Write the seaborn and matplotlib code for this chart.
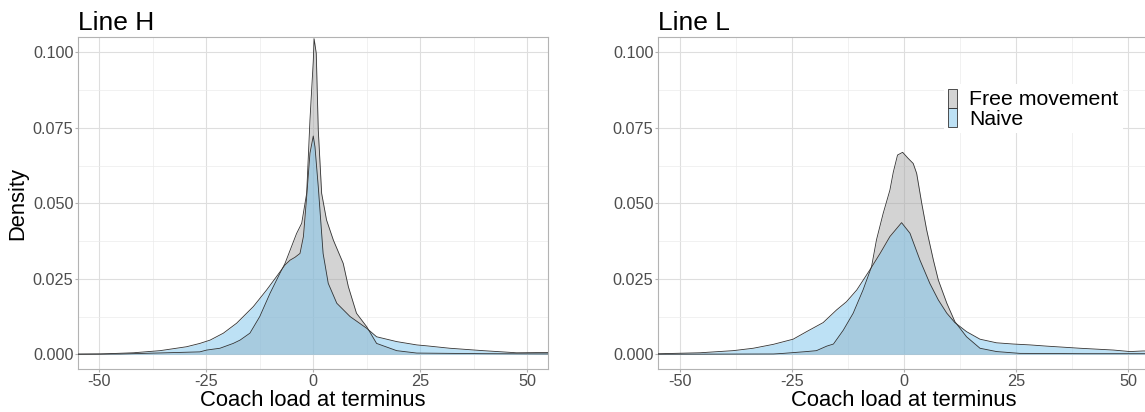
import numpy as np
import seaborn as sns
import matplotlib.pyplot as plt
from matplotlib.colors import to_rgba
from matplotlib.patches import Patch
from matplotlib.ticker import MultipleLocator

# density curves (x = coach load, y = density)
h_free_x = [-60, -45, -34.3, -26.5, -24.9, -21.8, -18.7, -17.1, -14.8, -12.5, -10.1, -7.8, -6.6, -5.4, -3.9,
            -2.7, -1.54, -0.77, -0.4, 0, 0.2, 0.7, 1.17, 1.96, 3.1, 4.7, 7.0, 8.2, 10.1, 12.5, 14.8, 19.5,
            24.2, 40, 60]
h_free_y = [0, 0.0001, 0.0005, 0.0008, 0.0014, 0.002, 0.0036, 0.0047, 0.007, 0.0125, 0.0202, 0.0268, 0.0301,
            0.0345, 0.040, 0.0434, 0.0533, 0.0776, 0.087, 0.097, 0.1045, 0.0997, 0.0743, 0.0533, 0.0445,
            0.0378, 0.0301, 0.0224, 0.0136, 0.0091, 0.0036, 0.0012, 0.0004, 0.0002, 0.0001]

h_naive_x = [-60, -49.8, -42, -35.8, -29.6, -26.5, -24.1, -21, -17.9, -14, -10.9, -8.6, -6.6, -5.4, -4.3,
             -3.1, -2.3, -1.54, -0.77, 0, 0.4, 1.17, 2.3, 3.5, 5.5, 8.6, 12.5, 14.8, 19.5, 24.2, 26.5, 31.9,
             39.7, 47.5, 55, 60]
h_naive_y = [0, 0.0001, 0.0005, 0.0012, 0.0025, 0.0036, 0.0047, 0.007, 0.0103, 0.0158, 0.0213, 0.0257,
             0.0296, 0.0312, 0.0321, 0.0334, 0.039, 0.0522, 0.0666, 0.0723, 0.0687, 0.0555, 0.0334, 0.0235,
             0.0169, 0.0125, 0.0086, 0.0058, 0.0042, 0.0031, 0.0028, 0.002, 0.0012, 0.0005, 0.0006, 0.0006]

l_free_x = [-60, -29.2, -27, -21.8, -19.6, -17.3, -15.8, -13.6, -11.4, -9.2, -7.3, -6.2, -4.7, -3.2, -2.45,
            -1.5, -0.36, 0.8, 2.0, 2.77, 3.9, 5.0, 6.5, 7.6, 9.5, 11.3, 13.9, 16.9, 20.6, 25.8, 40, 60]
l_free_y = [0, 0.0001, 0.0003, 0.0009, 0.0012, 0.0027, 0.0034, 0.008, 0.0136, 0.0213, 0.029, 0.0379,
            0.0467, 0.0544, 0.0603, 0.066, 0.0669, 0.065, 0.0632, 0.0599, 0.05, 0.0412, 0.0312, 0.0246,
            0.0169, 0.0108, 0.0058, 0.002, 0.0009, 0.0003, 0.0002, 0.0002]

l_naive_x = [-60, -45.6, -38.2, -33.7, -29.2, -24.8, -21.8, -18.1, -15.1, -12.9, -10.6, -7.7, -5.4, -3.2,
             -0.6, 1.27, 3.5, 5.7, 7.6, 9.5, 11.3, 13.9, 16.9, 20.6, 24.3, 28.1, 31.8, 39.2, 46.7, 50.4,
             53.3, 60]
l_naive_y = [0, 0.0005, 0.0012, 0.002, 0.0033, 0.005, 0.0075, 0.0105, 0.0147, 0.0174, 0.0213, 0.0279,
             0.0334, 0.039, 0.0436, 0.0401, 0.0312, 0.0235, 0.018, 0.0136, 0.0105, 0.0075, 0.005, 0.0038,
             0.0034, 0.0031, 0.0027, 0.002, 0.0014, 0.0009, 0.0011, 0.0011]

groups = ['Free movement', 'Naive']
fills = {'Free movement': '#A8A8A8', 'Naive': '#7CC4EC'}
edge = '#333333'

sns.set_style("white")
plt.rcParams['font.family'] = ['Liberation Sans', 'DejaVu Sans']
plt.rcParams['axes.unicode_minus'] = False
plt.rcParams['text.color'] = 'black'
plt.rcParams['axes.labelcolor'] = 'black'

fig = plt.figure(figsize=(11.45, 4.12), dpi=100)
ax1 = fig.add_axes([0.0684, 0.1044, 0.4100, 0.8051])
ax2 = fig.add_axes([0.5749, 0.1044, 0.4293, 0.8051])


def draw_panel(ax, curves, title):
    for name, (xs, ys) in zip(groups, curves):
        ax.fill_between(xs, ys, color=fills[name], alpha=0.5, lw=0, zorder=2)
        sns.lineplot(x=xs, y=ys, ax=ax, color=edge, lw=0.6, sort=False, estimator=None, zorder=3)
    ax.set_xlim(-54.9, 54.8)
    ax.set_ylim(-0.00487, 0.105)
    ax.xaxis.set_major_locator(MultipleLocator(25))
    ax.xaxis.set_minor_locator(MultipleLocator(12.5))
    ax.yaxis.set_major_locator(MultipleLocator(0.025))
    ax.yaxis.set_minor_locator(MultipleLocator(0.0125))
    ax.yaxis.set_major_formatter(lambda v, p: f'{v:.3f}')
    ax.grid(which='major', color='#DEDEDE', lw=0.8)
    ax.grid(which='minor', color='#EBEBEB', lw=0.5)
    ax.set_axisbelow(True)
    for s in ax.spines.values():
        s.set_color('#B3B3B3')
        s.set_linewidth(0.8)
    ax.tick_params(which='major', length=2, width=0.8, color='#B3B3B3', pad=1.5,
                   labelsize=11.7, labelcolor='#4D4D4D', bottom=True, left=True)
    ax.tick_params(which='minor', length=0)
    ax.set_title(title, loc='left', fontsize=19, pad=5, color='black')
    ax.set_xlabel('Coach load at terminus', fontsize=15.8, labelpad=1)
    ax.set_ylabel('')


draw_panel(ax1, [(h_free_x, h_free_y), (h_naive_x, h_naive_y)], 'Line H')
draw_panel(ax2, [(l_free_x, l_free_y), (l_naive_x, l_naive_y)], 'Line L')
ax1.set_ylabel('Density', fontsize=15.8, labelpad=3)

handles = [Patch(facecolor=to_rgba(fills[g], 0.5), edgecolor=edge, lw=0.6, label=g) for g in groups]
ax2.legend(handles=handles, loc='upper left', bbox_to_anchor=(0.581, 0.858), fontsize=15.3,
           frameon=True, facecolor='white', edgecolor='none', framealpha=1, fancybox=False,
           handlelength=0.43, handleheight=1.0, labelspacing=-0.05, handletextpad=0.57,
           borderpad=0.2, borderaxespad=0)

fig.savefig('out.png', dpi=100)
